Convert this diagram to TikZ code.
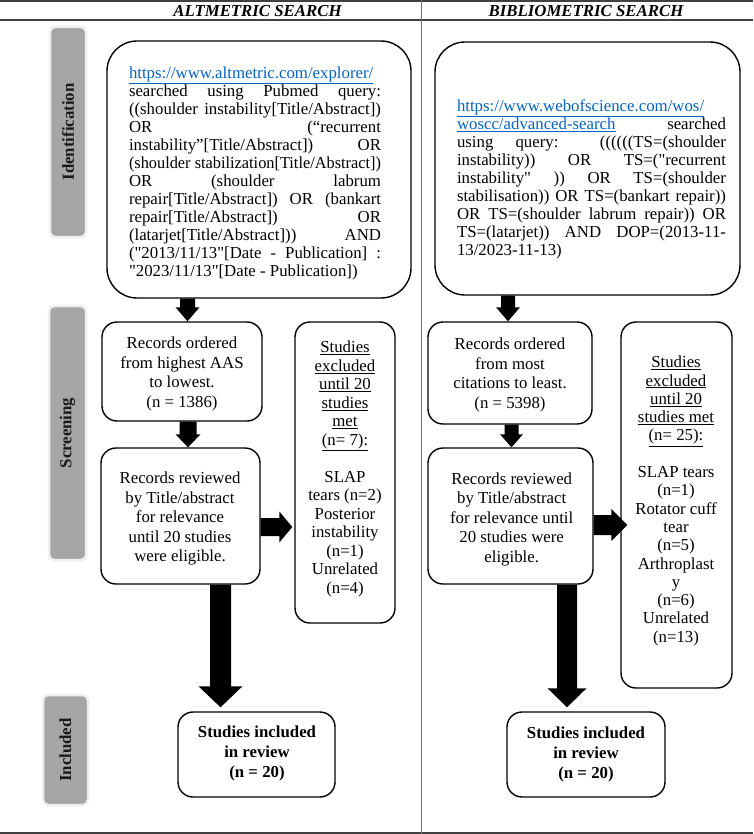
\documentclass[tikz,border=0pt]{standalone}
\usepackage{fontspec}
\usepackage{graphicx}
\setmainfont{Liberation Serif}[Ligatures=TeXOff]
\usetikzlibrary{calc}
\definecolor{linkblue}{HTML}{0563C1}
\definecolor{labelgray}{HTML}{A6A6A6}
\definecolor{halo}{HTML}{EFEFEF}
\definecolor{rulegray}{HTML}{404040}
\definecolor{divgray}{HTML}{707070}
\newcommand\jline[1]{\hbox to\hsize{#1}}
\newcommand\lline[1]{\hbox to\hsize{#1\hfil}}
\newcommand\sqline[1]{\hbox to\hsize{\resizebox{\hsize}{\height}{#1}}}
\newcommand\lnk[1]{\textcolor{linkblue}{\underline{#1}}}
\tikzset{
  box/.style={draw, line width=1.4pt, rounded corners=15pt, inner sep=0pt},
  bigbox/.style={box, rounded corners=30pt},
  txt/.style={inner sep=0pt, align=center, font=\fontsize{16.8}{19.5}\selectfont},
  extxt/.style={inner sep=0pt, align=center},
  qtxt/.style={inner sep=0pt, font=\fontsize{16.8}{18}\selectfont},
  head/.style={inner sep=0pt, anchor=base, font=\fontsize{16.8}{20}\selectfont\bfseries\itshape},
  lbl/.style={fill=labelgray, draw=halo, line width=2.5pt, rounded corners=5pt, inner sep=0pt,
    rotate=90, font=\fontsize{16.8}{20}\selectfont\bfseries, text=black!90},
  frame/.style={draw=rulegray, line width=1.2pt},
  dnarrow/.style n args={3}{to path={let \p1=(\tikztostart), \p2=(\tikztotarget) in
    (\x1-#1,\y1) -- (\x1+#1,\y1) -- (\x1+#1,\y2+#3) -- (\x1+#2,\y2+#3) -- (\x1,\y2)
    -- (\x1-#2,\y2+#3) -- (\x1-#1,\y2+#3) -- cycle}},
  rtarrow/.style n args={3}{to path={let \p1=(\tikztostart), \p2=(\tikztotarget) in
    (\x1,\y1-#1) -- (\x1,\y1+#1) -- (\x2-#3,\y1+#1) -- (\x2-#3,\y1+#2) -- (\x2,\y1)
    -- (\x2-#3,\y1-#2) -- (\x2-#3,\y1-#1) -- cycle}},
}
\begin{document}
\begin{tikzpicture}[x=1pt, y=-1pt]
\useasboundingbox (0,0) rectangle (753,834);
\fill[white] (0,0) rectangle (753,834);

% frame
\draw[frame] (0,1) -- (753,1);
\draw[frame] (0,20) -- (753,20);
\draw[frame] (0,833) -- (753,833);
\draw[draw=divgray, line width=1pt] (421,0) -- (421,834);

% headers
\node[head] (h1) at (257.5,17) {ALTMETRIC SEARCH};
\node[head] (h2) at (586,17) {BIBLIOMETRIC SEARCH};

% stage labels
\node[lbl, minimum width=210pt, minimum height=36pt] (lid) at (68,132) {Identification};
\node[lbl, minimum width=254pt, minimum height=37pt] (lsc) at (67.5,433) {Screening};
\node[lbl, minimum width=110pt, minimum height=45pt] (lin) at (65.5,750) {Included};

% left column boxes
\node[bigbox, minimum width=304pt, minimum height=257pt] (a1) at (259,169.5) {};
\node[box, minimum width=160pt, minimum height=99pt] (a2) at (182,371.5) {};
\node[box, minimum width=159pt, minimum height=136pt] (a3) at (180.5,516) {};
\node[box, minimum width=100pt, minimum height=301pt] (a4) at (345,472.5) {};
\node[box, minimum width=157pt, minimum height=85pt] (a5) at (256.5,754.5) {};

% right column boxes
\node[bigbox, minimum width=305pt, minimum height=253pt] (b1) at (587.5,168.5) {};
\node[box, minimum width=164pt, minimum height=102pt] (b2) at (510,373) {};
\node[box, minimum width=165pt, minimum height=136pt] (b3) at (510.5,516) {};
\node[box, minimum width=111pt, minimum height=366pt] (b4) at (676.5,505) {};
\node[box, minimum width=158pt, minimum height=85pt] (b5) at (586,754.5) {};

% texts left
\node[qtxt] (a1t) at (255,173) {\vbox{\hsize=252pt
\lline{\lnk{https://www.altmetric.com/explorer/}}
\jline{searched using Pubmed query:}
\jline{((shoulder instability[Title/Abstract])}
\jline{OR (“recurrent}
\jline{instability”[Title/Abstract]) OR}
\sqline{(shoulder stabilization[Title/Abstract])}
\jline{OR (shoulder labrum}
\jline{repair[Title/Abstract]) OR (bankart}
\jline{repair[Title/Abstract]) OR}
\jline{(latarjet[Title/Abstract])) AND}
\jline{("2013/11/13"[Date - Publication] :}
\lline{"2023/11/13"[Date - Publication])}}};
\node[txt] (a2t) at (182,374) {Records ordered\\from highest AAS\\to lowest.\\(n = 1386)};
\node[txt] (a3t) at (180,518.5) {Records reviewed\\by Title/abstract\\for relevance\\until 20 studies\\were eligible.};
\node[extxt, font=\fontsize{16.8}{18.5}\selectfont] (a4t) at (345,469) {\underline{Studies}\\\underline{excluded}\\\underline{until 20}\\\underline{studies}\\\underline{met}\\\underline{(n= 7):}\\[18.5pt]SLAP\\tears (n=2)\\Posterior\\instability\\(n=1)\\Unrelated\\(n=4)};
\node[txt, font=\fontsize{16.8}{20}\selectfont\bfseries] (a5t) at (257,753.5) {Studies included\\in review\\(n = 20)};

% texts right
\node[qtxt] (b1t) at (591.5,179.5) {\vbox{\hsize=269pt
\lline{\lnk{https://www.webofscience.com/wos/}}
\jline{\lnk{woscc/advanced-search} searched}
\jline{using query: ((((((TS=(shoulder}
\jline{instability)) OR TS=("recurrent}
\jline{instability" )) OR TS=(shoulder}
\jline{stabilisation)) OR TS=(bankart repair))}
\jline{OR TS=(shoulder labrum repair)) OR}
\jline{TS=(latarjet)) AND DOP=(2013-11-}
\lline{13/2023-11-13)}}};
\node[txt] (b2t) at (510,375) {Records ordered\\from most\\citations to least.\\(n = 5398)};
\node[txt] (b3t) at (511.7,519) {Records reviewed\\by Title/abstract\\for relevance until\\20 studies were\\eligible.};
\node[extxt, font=\fontsize{16.8}{18.3}\selectfont] (b4t) at (676,501) {\underline{Studies}\\\underline{excluded}\\\underline{until 20}\\\underline{studies met}\\\underline{(n= 25):}\\[18.3pt]SLAP tears\\(n=1)\\Rotator cuff\\tear\\(n=5)\\Arthroplast\\y\\(n=6)\\Unrelated\\(n=13)};
\node[txt, font=\fontsize{16.8}{20}\selectfont\bfseries] (b5t) at (586,754) {Studies included\\in review\\(n = 20)};

% block arrows left
\fill ([xshift=-71.5pt]a1.south) to[dnarrow={7.5pt}{12pt}{14pt}] (a2.north);
\fill ([xshift=6pt]a2.south) to[dnarrow={8.5pt}{12.5pt}{13pt}] (a3.north);
\fill ([yshift=-11pt]a3.east) to[rtarrow={9pt}{15.5pt}{13pt}] ([xshift=-2pt]a4.west);
\fill ([xshift=40pt]a3.south) to[dnarrow={10.5pt}{22pt}{21pt}] ([yshift=4pt]a5.north);

% block arrows right
\fill ([xshift=-79.5pt]b1.south) to[dnarrow={7pt}{12pt}{14pt}] (b2.north);
\fill ([xshift=1.5pt]b2.south) to[dnarrow={7pt}{11.5pt}{13pt}] (b3.north);
\fill ([yshift=-9pt]b3.east) to[rtarrow={10pt}{16pt}{16pt}] ([xshift=7pt]b4.west);
\fill ([xshift=56.5pt]b3.south) to[dnarrow={10pt}{19.5pt}{19pt}] ([yshift=4pt]b5.north);
\end{tikzpicture}
\end{document}
